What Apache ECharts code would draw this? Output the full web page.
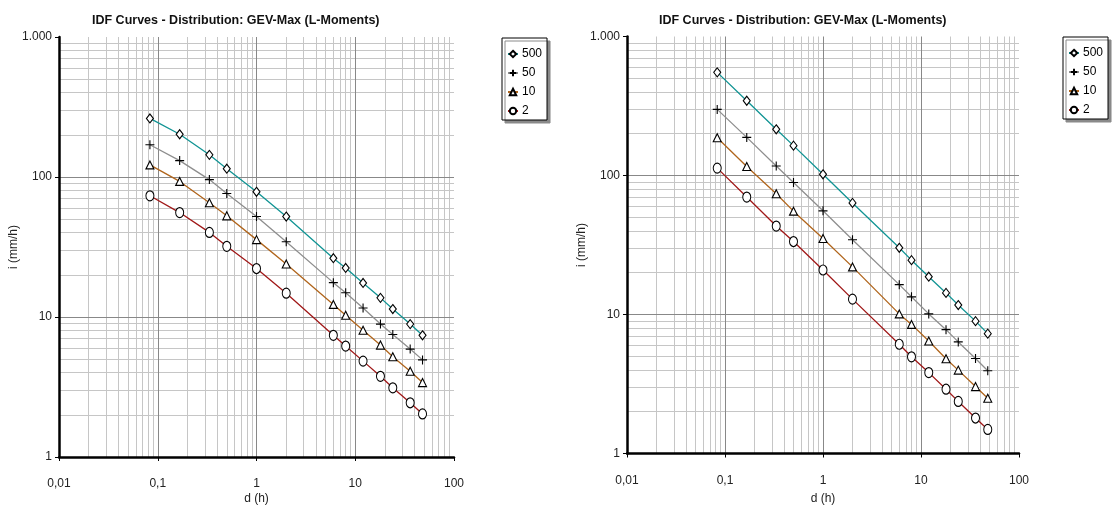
<!DOCTYPE html>
<html><head><meta charset="utf-8">
<script src="https://cdn.jsdelivr.net/npm/echarts@6/dist/echarts.min.js"></script>
<style>html,body{margin:0;padding:0;background:#fff}#c{width:1113px;height:510px}</style>
</head><body><div id="c"></div>
<script>
// ---- data ----
const durations = [0.0833, 0.1667, 0.3333, 0.5, 1, 2, 6, 8, 12, 18, 24, 36, 48];
const seriesNames = ['500', '50', '10', '2'];
const left500 = [262, 202, 144, 114.6, 78.4, 52.2, 26.3, 22.4, 17.5, 13.7, 11.4, 8.9, 7.4];
const left50  = [170, 131, 95.8, 76.3, 52.2, 34.5, 17.6, 14.9, 11.6, 8.9, 7.5, 5.9, 4.94];
const left10  = [122, 93, 65.5, 52.8, 35.7, 23.9, 12.3, 10.3, 8.05, 6.3, 5.2, 4.1, 3.4];
const left2   = [73.4, 55.7, 40.2, 32, 22.2, 14.8, 7.4, 6.2, 4.84, 3.77, 3.12, 2.44, 2.03];
const right500 = [552, 345, 215, 164, 102, 63.5, 30.2, 24.6, 18.7, 14.3, 11.7, 8.96, 7.28];
const right50  = [299, 188, 117, 89, 55.7, 34.5, 16.4, 13.4, 10.1, 7.78, 6.35, 4.83, 3.94];
const right10  = [187, 116, 74, 55.4, 35.2, 22, 10.1, 8.49, 6.45, 4.8, 3.98, 3.03, 2.5];
const right2   = [113, 70, 43.3, 33.5, 20.9, 12.9, 6.11, 4.96, 3.82, 2.9, 2.37, 1.8, 1.49];
const xTickValues = [0.01, 0.1, 1, 10, 100];
const xTickLabels = ['0,01', '0,1', '1', '10', '100'];
const yTickValues = [1, 10, 100, 1000];
const yTickLabels = ['1', '10', '100', '1.000'];
const titleText = 'IDF Curves - Distribution: GEV-Max (L-Moments)';
const xName = 'd (h)';
const yName = 'i (mm/h)';

// ---- styling ----
const styles = {
  '500': { symbol: 'diamond', size: [7, 9], color: '#119494' },
  '50':  { symbol: 'path://M0,5L10,5M5,0L5,10', size: [9, 9], color: '#8e8e8e' },
  '10':  { symbol: 'triangle', size: [8, 8], color: '#b0651c' },
  '2':   { symbol: 'circle', size: [8, 10], color: '#a01818' }
};
const grids = [
  { left: 59, top: 37, width: 395, height: 426 },
  { left: 627, top: 36.5, width: 392, height: 421 }
];

function logGridValues(lo, hi) {
  const minor = [], major = [];
  for (let d = lo; d < hi; d *= 10) {
    if (d > lo) major.push(d);
    for (let k = 2; k <= 9; k++) minor.push(+(d * k).toPrecision(6));
  }
  return { minor, major };
}
const xg = logGridValues(0.01, 100);
const yg = logGridValues(1, 1000);

function fmt(values, labels) {
  return v => {
    for (let i = 0; i < values.length; i++) {
      if (Math.abs(Math.log10(v) - Math.log10(values[i])) < 1e-6) return labels[i];
    }
    return '';
  };
}

const font = '"Liberation Sans", Arial, sans-serif';

function gridSeries(gi) {
  const minorStyle = { color: '#c6c6c6', width: 1, type: 'solid' };
  const majorStyle = { color: '#888888', width: 1, type: 'solid' };
  const data = [];
  xg.minor.forEach(v => data.push({ xAxis: v, lineStyle: minorStyle }));
  yg.minor.forEach(v => data.push({ yAxis: v, lineStyle: minorStyle }));
  xg.major.forEach(v => data.push({ xAxis: v, lineStyle: majorStyle }));
  yg.major.forEach(v => data.push({ yAxis: v, lineStyle: majorStyle }));
  return {
    type: 'line', name: '_grid' + gi, xAxisIndex: gi, yAxisIndex: gi, data: [],
    silent: true, z: 1,
    markLine: { silent: true, z: 1, symbol: ['none', 'none'], label: { show: false },
      animation: false, emphasis: { disabled: true }, data: data }
  };
}

function dataSeries(gi, name, values) {
  const s = styles[name];
  return {
    type: 'line', name: name, xAxisIndex: gi, yAxisIndex: gi, z: 2,
    data: durations.map((d, i) => [d, values[i]]),
    symbol: s.symbol, symbolSize: s.size, showSymbol: true,
    lineStyle: { color: s.color, width: 1.3 },
    itemStyle: { color: '#fff', borderColor: '#000', borderWidth: 1.1 },
    emphasis: { disabled: true },
    animation: false
  };
}

const xAxes = grids.map((g, gi) => ({
  type: 'log', logBase: 10, gridIndex: gi, min: 0.01, max: 100, z: 3,
  name: xName, nameLocation: 'middle', nameGap: gi === 0 ? 36 : 39.5, nameMoveOverlap: false,
  nameTextStyle: { fontFamily: font, fontSize: 12, color: '#222' },
  axisLine: { show: true, onZero: false, lineStyle: { color: '#000', width: 2.5 } },
  axisTick: { show: true, length: 4, lineStyle: { color: '#000', width: 1 } },
  axisLabel: { margin: 21, fontFamily: font, fontSize: 12, color: '#222',
    formatter: fmt(xTickValues, xTickLabels), showMinLabel: true, showMaxLabel: true },
  splitLine: { show: false }
}));
const yAxes = grids.map((g, gi) => ({
  type: 'log', logBase: 10, gridIndex: gi, min: 1, max: 1000, z: 3,
  name: yName, nameLocation: 'middle', nameRotate: 90, nameGap: 39, nameMoveOverlap: false,
  nameTextStyle: { fontFamily: font, fontSize: 12, color: '#222' },
  axisLine: { show: true, onZero: false, lineStyle: { color: '#000', width: 2.5 } },
  axisTick: { show: true, length: 4, lineStyle: { color: '#000', width: 1 } },
  axisLabel: { margin: 7, fontFamily: font, fontSize: 12, color: '#222',
    formatter: fmt(yTickValues, yTickLabels), showMinLabel: true, showMaxLabel: true },
  splitLine: { show: false }
}));

const leftVals = [left500, left50, left10, left2];
const rightVals = [right500, right50, right10, right2];
const series = [gridSeries(0), gridSeries(1)];
seriesNames.forEach((n, i) => series.push(dataSeries(0, n, leftVals[i])));
seriesNames.forEach((n, i) => series.push(dataSeries(1, n, rightVals[i])));

function legend(left, top) {
  return {
    data: seriesNames, orient: 'vertical', left: left, top: top,
    padding: [10, 5, 3, 5], itemGap: 7, itemWidth: 10, itemHeight: 8,
    backgroundColor: '#fff', borderColor: '#000', borderWidth: 1,
    shadowColor: '#8a8a8a', shadowBlur: 0, shadowOffsetX: 3, shadowOffsetY: 3,
    selectedMode: false,
    textStyle: { fontFamily: font, fontSize: 12, color: '#000', padding: [0, 0, 0, -1] }
  };
}

const titleStyle = { fontFamily: '"Liberation Sans", Arial, sans-serif',
  fontSize: 12.5, fontWeight: 'bold', color: '#111' };

const option = {
  animation: false,
  backgroundColor: '#fff',
  title: [
    { text: titleText, left: 92, top: 14, padding: 0, textStyle: titleStyle },
    { text: titleText, left: 659, top: 14, padding: 0, textStyle: titleStyle }
  ],
  legend: [legend(502, 38), legend(1063, 37)],
  grid: grids,
  xAxis: xAxes,
  yAxis: yAxes,
  series: series
};

const chart = echarts.init(document.getElementById('c'), null, { renderer: 'canvas' });
chart.setOption(option);
</script>
</body></html>
